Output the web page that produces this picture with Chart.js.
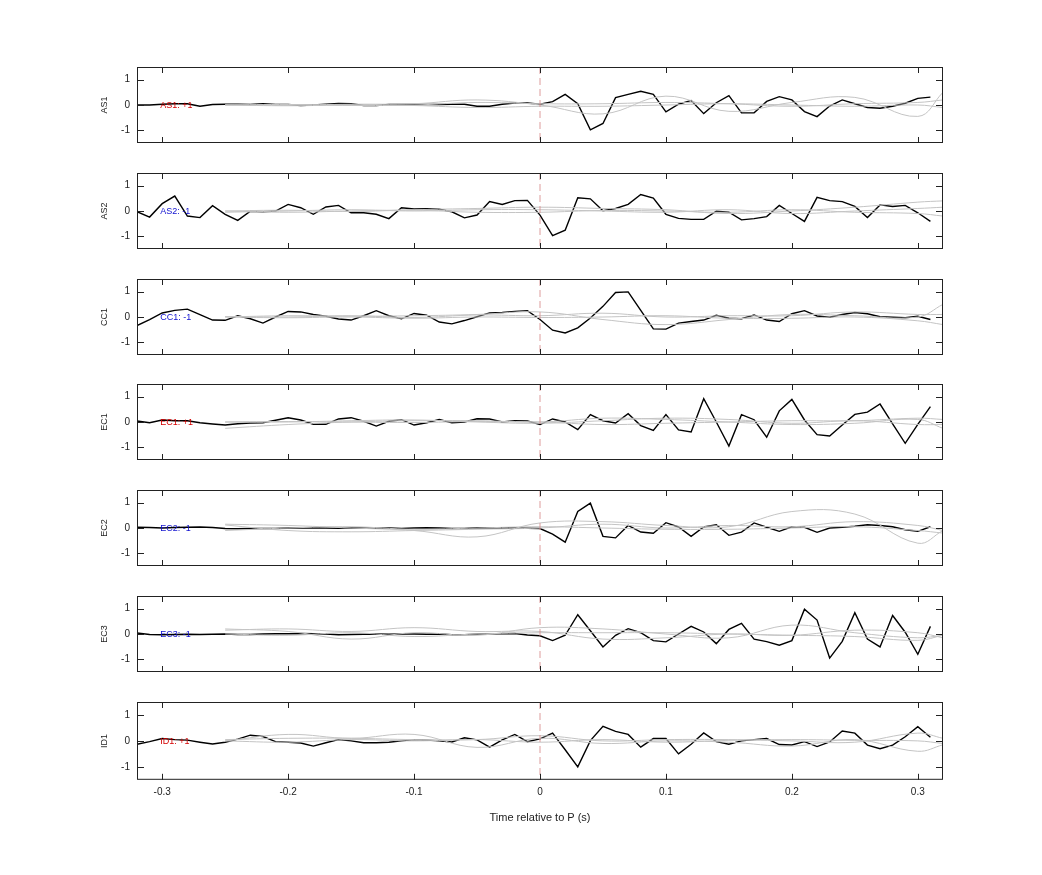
<!DOCTYPE html>
<html>
<head>
<meta charset="utf-8">
<script src="https://cdn.jsdelivr.net/npm/chart.js@4.4.0/dist/chart.umd.min.js"></script>
<style>
  body { margin: 0; background: #fff; }
  .panel { position: absolute; left: 95px; width: 865px; }
</style>
</head>
<body>
<div id="wrap"></div>
<script>
'use strict';

// time axis of the black traces, -0.32 .. 0.31 s step 0.01
var times = [];
for (var t = -32; t <= 31; t++) times.push(t / 100);

// sample times of the smooth grey traces
var greyTimes = [-0.25, -0.2, -0.15, -0.1, -0.05, 0, 0.05, 0.1, 0.15, 0.2, 0.25, 0.3, 0.32];

var channels = ['AS1', 'AS2', 'CC1', 'EC1', 'EC2', 'EC3', 'ID1'];
var polarity = ['+1', '-1', '-1', '+1', '-1', '-1', '+1'];
var yTicks = [-1, 0, 1];
var xTicks = [-0.3, -0.2, -0.1, 0, 0.1, 0.2, 0.3];

var as1 = [0, 0, 0.03, 0.05, 0.05, -0.05, 0.02, 0.03, 0.03, 0.02, 0.05, 0.02, 0.02, -0.02, 0, 0.03, 0.06, 0.05, -0.02, -0.02, 0.02, 0.02, 0.02, 0.02, 0.02, 0.03, 0.03, -0.05, -0.05, 0.03, 0.08, 0.08, 0.03,
  0.13, 0.42, 0.05, -0.98, -0.73, 0.29, 0.42, 0.54, 0.42, -0.27, 0.03, 0.18, -0.34, 0.09, 0.37, -0.31, -0.31, 0.14, 0.33, 0.2, -0.26, -0.46, -0.04, 0.2, 0.05, -0.1, -0.13, -0.05, 0.07, 0.26, 0.31];
var as2 = [-0.03, -0.24, 0.29, 0.59, -0.2, -0.26, 0.21, -0.13, -0.37, -0.01, -0.03, 0, 0.26, 0.13, -0.13, 0.16, 0.22, -0.07, -0.07, -0.13, -0.3, 0.13, 0.08, 0.09, 0.07, -0.03, -0.27, -0.16, 0.37, 0.26, 0.41, 0.42, -0.16,
  -0.97, -0.76, 0.52, 0.48, 0.01, 0.1, 0.26, 0.65, 0.51, -0.13, -0.29, -0.33, -0.33, -0.01, -0.05, -0.35, -0.3, -0.22, 0.22, -0.1, -0.41, 0.54, 0.41, 0.37, 0.18, -0.26, 0.24, 0.18, 0.22, -0.07, -0.41];
var cc1 = [-0.34, -0.1, 0.16, 0.26, 0.31, 0.09, -0.12, -0.13, 0.05, -0.07, -0.24, 0, 0.22, 0.2, 0.1, 0.03, -0.08, -0.12, 0.05, 0.25, 0.05, -0.07, 0.14, 0.07, -0.2, -0.27, -0.14, 0.01, 0.16, 0.18, 0.22, 0.25, -0.1,
  -0.52, -0.63, -0.43, -0.04, 0.42, 0.97, 0.99, 0.26, -0.47, -0.48, -0.24, -0.18, -0.12, 0.07, -0.05, -0.07, 0.08, -0.12, -0.18, 0.13, 0.25, 0.04, -0.01, 0.1, 0.18, 0.13, 0.01, -0.01, -0.03, 0.03, -0.1];
var ec1 = [0.04, -0.03, 0.08, 0.05, 0.05, -0.03, -0.08, -0.12, -0.07, -0.04, -0.03, 0.07, 0.17, 0.08, -0.09, -0.09, 0.12, 0.17, 0.03, -0.16, 0.03, 0.09, -0.12, -0.03, 0.1, -0.03, 0, 0.13, 0.12, 0, 0.05, 0.04, -0.1,
  0.12, 0, -0.3, 0.29, 0.05, -0.04, 0.33, -0.14, -0.33, 0.29, -0.31, -0.39, 0.92, 0, -0.95, 0.29, 0.09, -0.6, 0.44, 0.89, 0.08, -0.5, -0.55, -0.12, 0.3, 0.39, 0.71, -0.07, -0.84, -0.09, 0.61];
var ec2 = [0.03, 0.02, 0, 0.02, 0.03, 0.04, 0.02, -0.02, -0.03, -0.02, -0.02, -0.02, 0, 0, 0.01, 0, -0.01, 0.01, 0, -0.01, 0, -0.02, 0, 0.01, 0, -0.02, -0.02, 0.01, 0, 0.01, 0, -0.01, -0.02,
  -0.24, -0.56, 0.65, 0.98, -0.33, -0.39, 0.1, -0.16, -0.21, 0.21, 0.04, -0.33, 0.04, 0.13, -0.29, -0.16, 0.2, 0.03, -0.13, 0.05, 0.03, -0.17, 0, 0.03, 0.07, 0.13, 0.1, 0.05, -0.07, -0.13, 0.05];
var ec3 = [0.04, -0.02, -0.03, -0.02, -0.01, -0.02, -0.01, 0, -0.02, -0.02, 0, 0.01, 0.01, 0.02, 0.01, 0, -0.03, -0.02, -0.01, 0, -0.01, 0, 0, -0.01, 0, -0.03, -0.03, -0.01, 0.01, 0.01, 0.02, -0.04, -0.07,
  -0.26, -0.05, 0.76, 0.13, -0.51, -0.05, 0.21, 0.05, -0.26, -0.31, 0, 0.3, 0.08, -0.38, 0.18, 0.42, -0.2, -0.3, -0.44, -0.26, 0.98, 0.55, -0.95, -0.29, 0.84, -0.2, -0.51, 0.73, 0.07, -0.8, 0.3];
var id1 = [-0.13, -0.03, 0.09, 0.05, 0.03, -0.05, -0.12, -0.05, 0.07, 0.22, 0.17, -0.03, -0.05, -0.08, -0.2, -0.07, 0.05, 0, -0.07, -0.07, -0.05, 0, 0.05, 0.03, 0, -0.04, 0.12, 0.04, -0.24, 0.04, 0.25, -0.03, 0.08,
  0.3, -0.34, -1.0, 0.01, 0.56, 0.37, 0.25, -0.24, 0.09, 0.09, -0.5, -0.13, 0.31, -0.03, -0.13, 0, 0.05, 0.09, -0.14, -0.16, -0.03, -0.22, -0.04, 0.38, 0.3, -0.16, -0.3, -0.16, 0.16, 0.55, 0.14];
var blackSeries = [as1, as2, cc1, ec1, ec2, ec3, id1];

// grey traces, three per channel
var greySeries = [
  [[0, 0, 0.03, 0.05, 0.2, 0, -0.35, 0.35, -0.25, 0.1, 0.3, -0.45, 0.5],
   [0, 0.02, -0.02, 0, 0.1, 0.05, 0.05, 0.1, 0.05, -0.05, 0.05, 0.1, 0.2],
   [0, -0.03, 0, -0.02, -0.1, -0.05, -0.05, 0, 0.05, 0, -0.05, 0, -0.1]],
  [[0, 0.03, -0.02, 0.05, 0.1, 0.15, 0.1, 0.05, -0.1, 0, 0.15, 0.35, 0.4],
   [-0.05, 0, 0.05, 0, 0.05, 0.05, 0, -0.05, 0.05, -0.1, 0, 0.1, 0.15],
   [0, -0.05, 0, 0.03, -0.05, -0.05, 0.02, 0, -0.05, 0.05, -0.05, -0.1, -0.2]],
  [[0, 0.05, 0.03, 0.05, 0.1, 0.2, -0.1, -0.3, -0.1, 0.1, 0.05, 0, 0.5],
   [0.02, 0, 0.05, -0.02, 0.08, 0.05, 0.15, 0, 0.05, 0.05, 0.2, 0.1, 0.1],
   [0, -0.03, 0, -0.05, 0, -0.02, 0, 0.05, -0.05, -0.05, 0, -0.15, -0.3]],
  [[-0.25, -0.1, 0, 0.05, 0.05, 0, 0.15, 0.1, 0, -0.1, -0.05, 0.1, -0.25],
   [0, 0, 0.05, 0.08, 0, -0.05, 0.05, 0.15, 0.1, -0.05, 0.05, -0.1, -0.1],
   [0, 0.02, 0, -0.02, 0.02, 0, -0.1, -0.05, 0, 0.05, 0.05, 0.15, 0.1]],
  [[0.15, 0.1, 0, -0.1, -0.35, 0.2, 0.25, 0.1, 0.05, 0.65, 0.55, -0.6, -0.1],
   [0.12, -0.1, -0.15, -0.1, -0.05, 0, 0.15, 0, 0.1, 0.05, 0.25, 0.1, -0.1],
   [-0.1, 0, 0.05, -0.05, 0, 0.05, 0, -0.05, -0.05, 0, 0.05, -0.1, -0.2]],
  [[0.2, 0.1, -0.2, 0.05, -0.05, 0.25, 0.2, 0, -0.15, 0.35, 0.05, -0.15, -0.05],
   [0.15, 0.2, 0.1, 0.25, 0.1, 0.1, -0.2, -0.15, 0, -0.05, 0.15, 0.05, -0.15],
   [0, -0.05, 0.05, -0.1, 0, 0.05, 0.05, 0.05, 0, -0.05, -0.1, -0.25, -0.05]],
  [[0, 0.25, 0.1, 0.25, -0.25, 0.1, -0.1, 0, -0.05, -0.2, 0.05, -0.4, -0.15],
   [0.05, 0.1, 0.1, 0.05, 0.05, 0.2, 0, 0.05, 0.05, 0, -0.05, 0.3, 0.1],
   [0, -0.05, 0.05, 0, 0.05, -0.05, 0.05, -0.05, 0.02, 0.05, 0.02, 0, -0.1]]
];

var fontFamily = '"Liberation Sans", Arial, sans-serif';
var panelTop = 67, panelStep = 105.8, panelHeight = 76, gap = 13;

var frame = {
  id: 'frame',
  afterDatasetsDraw: function(chart, args, opts) {
    var ctx = chart.ctx, a = chart.chartArea;
    var xs = chart.scales.x, ys = chart.scales.y;
    ctx.save();
    // zero line, dashed
    var x0 = xs.getPixelForValue(0);
    ctx.strokeStyle = 'rgba(215,140,140,0.85)';
    ctx.lineWidth = 1;
    ctx.setLineDash([7, 4]);
    ctx.beginPath(); ctx.moveTo(x0, a.top); ctx.lineTo(x0, a.bottom); ctx.stroke();
    ctx.setLineDash([]);
    // box
    ctx.strokeStyle = '#222';
    ctx.strokeRect(a.left + 0.5, a.top + 0.5, a.right - a.left - 1, a.bottom - a.top - 1);
    // inward ticks
    ctx.beginPath();
    xTicks.forEach(function(v) {
      var px = Math.round(xs.getPixelForValue(v)) + 0.5;
      ctx.moveTo(px, a.top); ctx.lineTo(px, a.top + 6);
      ctx.moveTo(px, a.bottom); ctx.lineTo(px, a.bottom - 6);
    });
    yTicks.forEach(function(v) {
      var py = Math.round(ys.getPixelForValue(v)) + 0.5;
      ctx.moveTo(a.left, py); ctx.lineTo(a.left + 7, py);
      ctx.moveTo(a.right, py); ctx.lineTo(a.right - 7, py);
    });
    ctx.stroke();
    // channel polarity label
    ctx.font = '9px ' + fontFamily;
    ctx.fillStyle = opts.color;
    ctx.textBaseline = 'middle';
    ctx.fillText(opts.text, xs.getPixelForValue(-0.3) - 2, ys.getPixelForValue(0) + 1);
    ctx.restore();
  }
};

var wrap = document.getElementById('wrap');
channels.forEach(function(name, i) {
  var last = i === channels.length - 1;
  var div = document.createElement('div');
  div.className = 'panel';
  div.style.top = (panelTop + panelStep * i - gap) + 'px';
  div.style.height = (gap + panelHeight + (last ? 53 : gap)) + 'px';
  var canvas = document.createElement('canvas');
  div.appendChild(canvas);
  wrap.appendChild(div);

  var datasets = greySeries[i].map(function(g) {
    return {
      data: g.map(function(v, k) { return { x: greyTimes[k], y: v }; }),
      borderColor: '#c4c4c4', borderWidth: 1, pointRadius: 0, tension: 0.4
    };
  });
  datasets.push({
    data: blackSeries[i].map(function(v, k) { return { x: times[k], y: v }; }),
    borderColor: '#000', borderWidth: 1.4, pointRadius: 0, tension: 0
  });

  new Chart(canvas, {
    type: 'line',
    data: { datasets: datasets },
    plugins: [frame],
    options: {
      responsive: true,
      maintainAspectRatio: false,
      animation: false,
      layout: { padding: { top: 5, right: 17, bottom: last ? 2 : 5, left: 0 } },
      plugins: {
        legend: { display: false },
        tooltip: { enabled: false },
        frame: { text: name + ': ' + polarity[i], color: polarity[i] === '+1' ? '#d40000' : '#1010d0' }
      },
      scales: {
        x: {
          type: 'linear', min: -0.32, max: 0.32,
          display: last,
          grid: { display: false, drawTicks: false },
          border: { display: false },
          afterBuildTicks: function(ax) { ax.ticks = xTicks.map(function(v) { return { value: v }; }); },
          ticks: {
            color: '#222', font: { size: 10, family: fontFamily }, padding: 6,
            maxRotation: 0,
            callback: function(v) { return String(Math.round(v * 10) / 10); }
          },
          title: { display: true, text: 'Time relative to P (s)', color: '#222', font: { size: 11, family: fontFamily }, padding: { top: 8 } }
        },
        y: {
          min: -1.5, max: 1.5,
          grid: { display: false, drawTicks: false },
          border: { display: false },
          afterBuildTicks: function(ax) { ax.ticks = yTicks.map(function(v) { return { value: v }; }); },
          afterFit: function(ax) { ax.width = 42; },
          ticks: { color: '#222', font: { size: 10, family: fontFamily }, padding: 7 },
          title: { display: true, text: name, color: '#222', font: { size: 9, family: fontFamily }, padding: 4 }
        }
      }
    }
  });
});
</script>
</body>
</html>
